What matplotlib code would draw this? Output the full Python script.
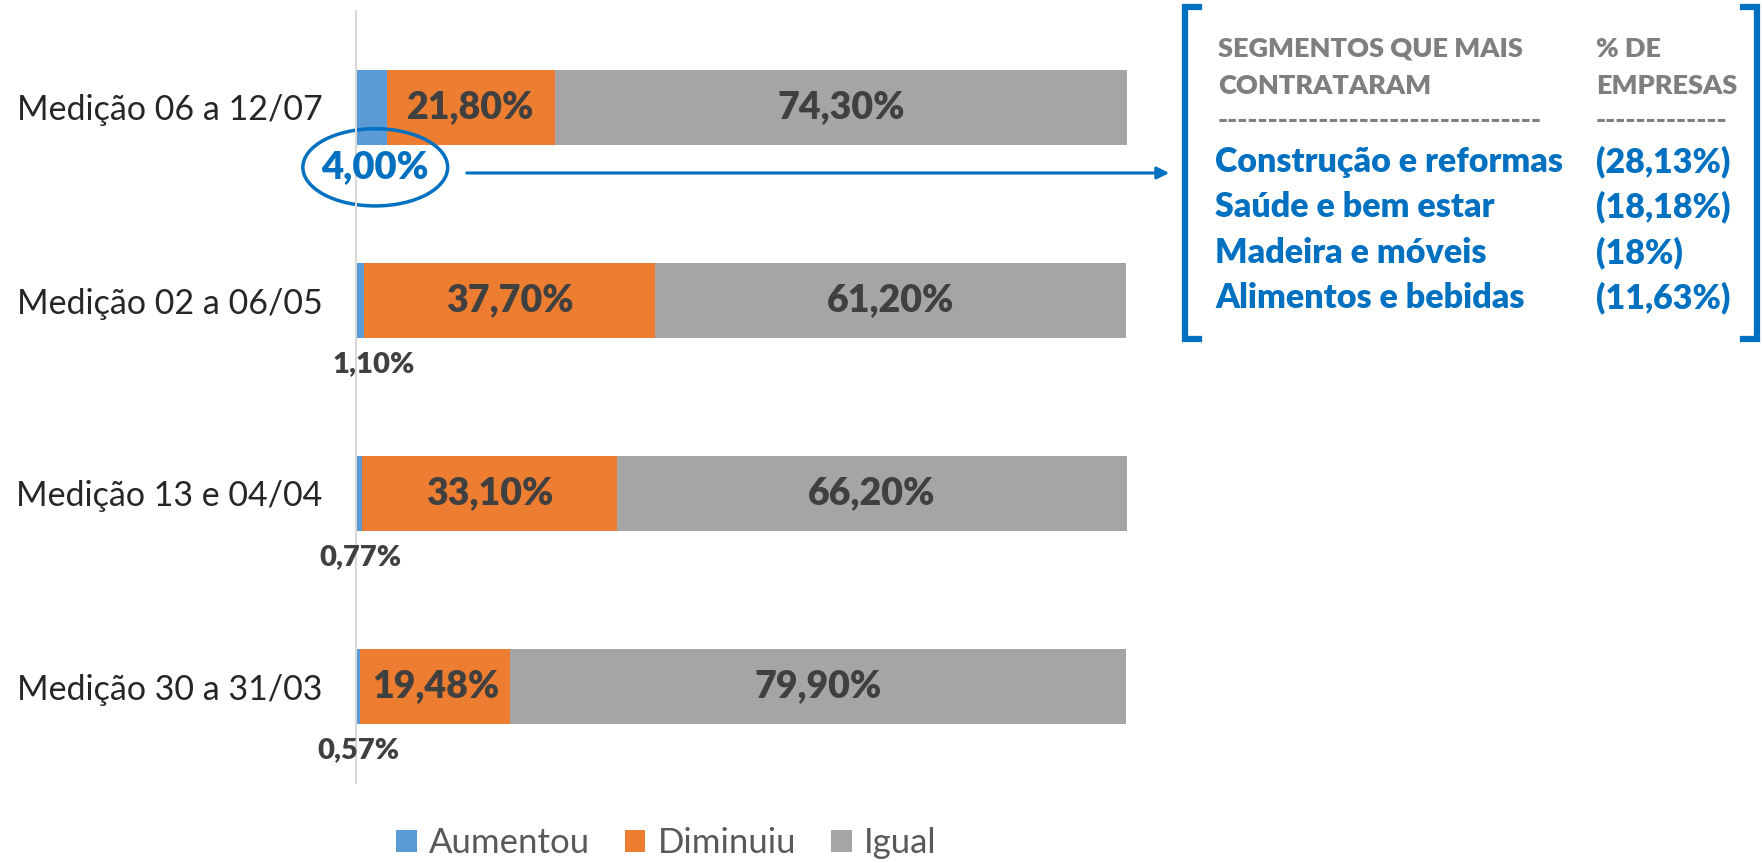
import matplotlib.pyplot as plt
import numpy as np
from matplotlib.patches import Ellipse, FancyArrowPatch
from matplotlib.lines import Line2D

plt.rcParams['font.family'] = ['Lato', 'DejaVu Sans']

# Data
categorias = ["Medição 30 a 31/03", "Medição 13 e 04/04",
              "Medição 02 a 06/05", "Medição 06 a 12/07"]
aumentou = [0.57, 0.77, 1.10, 4.00]
diminuiu = [19.48, 33.10, 37.70, 21.80]
igual = [79.90, 66.20, 61.20, 74.30]
series_nomes = ["Aumentou", "Diminuiu", "Igual"]

segmentos = ["Construção e reformas", "Saúde e bem estar",
             "Madeira e móveis", "Alimentos e bebidas"]
segmentos_pct = ["(28,13%)", "(18,18%)", "(18%)", "(11,63%)"]

def fmt(v):
    return f"{v:.2f}%".replace(".", ",")

azul, laranja, cinza = "#5B9BD5", "#ED7D31", "#A5A5A5"
azul_txt = "#0070C0"
texto = "#404040"

W, H = 1762, 863
fig = plt.figure(figsize=(W / 100, H / 100), dpi=100)
ax = fig.add_axes([356 / W, 80 / H, (1127 - 356) / W, (852 - 80) / H])

y = np.arange(len(categorias))
h = 0.39
aum = np.array(aumentou)
dim = np.array(diminuiu)
ig = np.array(igual)

ax.barh(y, aum, h, color=azul, label=series_nomes[0])
ax.barh(y, dim, h, left=aum, color=laranja, label=series_nomes[1])
ax.barh(y, ig, h, left=aum + dim, color=cinza, label=series_nomes[2])

ax.set_xlim(0, 100.1)
ax.set_ylim(-0.5, 3.5)
ax.set_yticks(y)
ax.set_yticklabels(categorias, fontsize=24.5, color="#262626")
ax.tick_params(axis='y', length=0, pad=24)
ax.set_xticks([])
for s in ["top", "right", "bottom"]:
    ax.spines[s].set_visible(False)
ax.spines["left"].set_color("#D9D9D9")
ax.spines["left"].set_linewidth(1.5)

# labels inside bars
for i in range(len(categorias)):
    ax.text(aum[i] + dim[i] / 2, y[i], fmt(dim[i]), ha="center", va="center",
            fontsize=27, fontweight="heavy", color=texto)
    ax.text(aum[i] + dim[i] + ig[i] / 2, y[i], fmt(ig[i]), ha="center", va="center",
            fontsize=27, fontweight="heavy", color=texto)

# small labels under bars (Aumentou)
label_dx = [0, 0.2, 1.8, 0.5]
for i in range(len(categorias) - 1):
    ax.text(aum[i] / 2 + label_dx[i], y[i] - 0.33, fmt(aum[i]), ha="center", va="center",
            fontsize=21, fontweight="heavy", color=texto)

# highlighted label
i = len(categorias) - 1
lx, ly = aum[i] / 2 + label_dx[i], y[i] - 0.31
ax.text(lx, ly, fmt(aum[i]), ha="center", va="center",
        fontsize=27.5, fontweight="heavy", color=azul_txt)
ax.add_patch(Ellipse((lx, ly), 18.8, 0.40, fill=False, edgecolor=azul_txt,
                     linewidth=2.5, clip_on=False))

# arrow to table
fig.add_artist(FancyArrowPatch((464 / W, 1 - 173 / H), (1172 / W, 1 - 173 / H),
                               transform=fig.transFigure, arrowstyle="-|>",
                               mutation_scale=18, color=azul_txt, linewidth=2.2))

# brackets
bx0, bx1, by0, by1 = 1185, 1757, 7, 339
fig.add_artist(Line2D([(bx0 + 14) / W, bx0 / W, bx0 / W, (bx0 + 14) / W],
                      [1 - by0 / H, 1 - by0 / H, 1 - by1 / H, 1 - by1 / H],
                      color=azul_txt, linewidth=4.5, solid_joinstyle="miter"))
fig.add_artist(Line2D([(bx1 - 14) / W, bx1 / W, bx1 / W, (bx1 - 14) / W],
                      [1 - by0 / H, 1 - by0 / H, 1 - by1 / H, 1 - by1 / H],
                      color=azul_txt, linewidth=4.5, solid_joinstyle="miter"))

# table text
c1, c2 = 1218 / W, 1596 / W
hdr = dict(fontsize=19.5, fontweight="heavy", color="#7F7F7F", va="center", ha="left")
fig.text(c1, 1 - 49 / H, "SEGMENTOS QUE MAIS", **hdr)
fig.text(c1, 1 - 86 / H, "CONTRATARAM", **hdr)
fig.text(c2, 1 - 49 / H, "% DE", **hdr)
fig.text(c2, 1 - 86 / H, "EMPRESAS", **hdr)
fig.text(c1, 1 - 120 / H, "-" * 32, **hdr)
fig.text(c2, 1 - 120 / H, "-" * 13, **hdr)
for k, (seg, pct) in enumerate(zip(segmentos, segmentos_pct)):
    yy = 1 - (162 + 45.3 * k) / H
    fig.text(c1 - 3 / W, yy, seg, fontsize=24.5, fontweight="heavy", color=azul_txt,
             va="center", ha="left")
    fig.text(c2, yy, pct, fontsize=24.5, fontweight="heavy", color=azul_txt,
             va="center", ha="left")

# legend
fig.legend(loc="center", bbox_to_anchor=(666 / W, 1 - 843 / H), ncol=3,
           frameon=False, fontsize=25, handlelength=0.6, handleheight=0.6,
           handletextpad=0.35, columnspacing=1.0, labelcolor="#595959")

fig.savefig("out.png", dpi=100, facecolor="white")
